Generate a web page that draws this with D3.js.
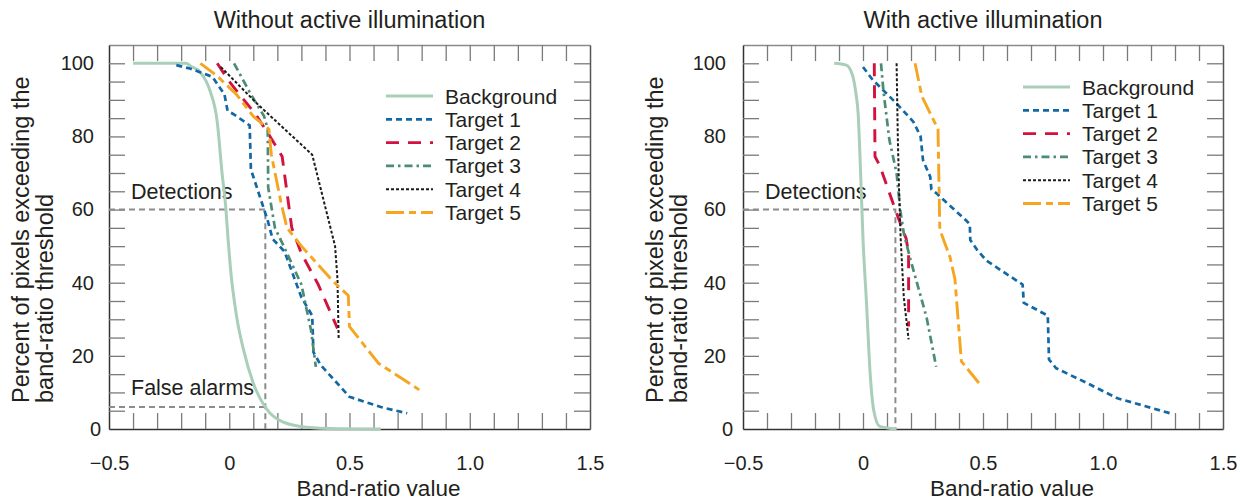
<!DOCTYPE html>
<html>
<head>
<meta charset="utf-8">
<script src="https://cdn.jsdelivr.net/npm/d3@7"></script>
<style>
  body { margin: 0; background: #fff; }
  svg text { font-family: "Liberation Sans", Arial, sans-serif; fill: #231f20; }
</style>
</head>
<body>
<div id="chart"></div>
<script>
// ---- data ----
const seriesNames = ["Background", "Target 1", "Target 2", "Target 3", "Target 4", "Target 5"];
const xTickLabels = [-0.5, 0, 0.5, 1.0, 1.5];
const yTickLabels = [0, 20, 40, 60, 80, 100];
const xMinorTicks = d3.range(-4, 15).map(d => d / 10);
const yMinorTicks = d3.range(5, 105, 5);

// without active illumination
const noIllumBackground = [[-0.4,100],[-0.18,100],[-0.16,99.2],[-0.12,97.5],[-0.08,92.5],[-0.05,84],[-0.03,70],[-0.015,61],[-0.005,52],[0.005,44],[0.03,31],[0.06,21.5],[0.10,12.5],[0.155,5.5],[0.22,2],[0.32,0.5],[0.45,0.1],[0.63,0]];
const noIllumTarget1 = [[-0.22,99.5],[-0.16,98.5],[-0.07,96.3],[-0.02,91.5],[-0.007,87],[0.02,86],[0.085,83],[0.09,71],[0.14,61],[0.16,57],[0.18,52],[0.23,48.5],[0.30,36],[0.345,31],[0.35,21],[0.38,17.5],[0.5,8.8],[0.63,6],[0.74,4.3]];
const noIllumTarget2 = [[-0.05,100],[0.0,95],[0.11,86],[0.16,81],[0.22,74.5],[0.26,55],[0.30,48],[0.37,39.5],[0.45,27.5]];
const noIllumTarget3 = [[0.02,100],[0.09,91.5],[0.145,85.5],[0.16,82],[0.162,66],[0.19,55],[0.23,49.5],[0.30,39.5],[0.34,27],[0.36,17]];
const noIllumTarget4 = [[-0.035,99],[0.115,89],[0.345,75],[0.44,50],[0.45,41],[0.455,24.5]];
const noIllumTarget5 = [[-0.12,100],[-0.05,96.5],[0.03,91.5],[0.10,85.5],[0.165,82],[0.175,75],[0.215,62],[0.24,55],[0.30,50],[0.43,40.5],[0.495,36.5],[0.50,28],[0.62,18],[0.79,10.7]];
const noIllumDetections = [[-0.5,60],[0.15,60],[0.15,0]];
const noIllumFalseAlarms = [[-0.5,6],[0.15,6]];

// with active illumination
const illumBackground = [[-0.12,100],[-0.07,99.5],[-0.045,97],[-0.03,92],[-0.02,86],[-0.01,70],[0,52],[0.015,34],[0.03,15],[0.045,5],[0.07,0.7],[0.14,0]];
const illumTarget1 = [[0.0,99],[0.04,95.5],[0.14,89],[0.21,84],[0.24,80],[0.25,73.5],[0.28,69],[0.285,65.5],[0.305,64.5],[0.43,57],[0.445,56],[0.447,51.7],[0.475,49],[0.515,46],[0.665,39.5],[0.67,34.5],[0.77,31],[0.775,19],[0.805,16.6],[0.92,13],[1.06,8.4],[1.28,4.3]];
const illumTarget2 = [[0.047,100],[0.05,74.5],[0.07,72],[0.14,59],[0.18,52],[0.19,48],[0.19,28]];
const illumTarget3 = [[0.075,100],[0.085,92.5],[0.11,79],[0.14,70],[0.155,60],[0.17,53.5],[0.195,47],[0.265,30.5],[0.305,17]];
const illumTarget4 = [[0.14,100],[0.145,80],[0.15,66],[0.157,52],[0.17,36],[0.19,24.5]];
const illumTarget5 = [[0.217,100],[0.245,91],[0.3125,82],[0.32,54.5],[0.3625,47],[0.383,41],[0.41,18.5],[0.49,12]];
const illumDetections = [[-0.5,60],[0.135,60],[0.135,0]];

// ---- styles ----
const styles = [
  { color: "#a9cfb8", width: 3,   dash: null },
  { color: "#1268a3", width: 2.7, dash: "6,4" },
  { color: "#d2123f", width: 2.9, dash: "13,9" },
  { color: "#4c8c75", width: 2.7, dash: "8,4,2.5,4" },
  { color: "#1c1c1c", width: 2,   dash: "3,2" },
  { color: "#f6a520", width: 2.9, dash: "18,5,7,5" }
];

const plotTop = 45, plotBottom = 429;
const y = d3.scaleLinear().domain([0, 105]).range([plotBottom, plotTop]);

const svg = d3.select('#chart').append('svg')
    .attr('width', 1240)
    .attr('height', 500);

function drawPanel(p) {
    const x = d3.scaleLinear().domain([-0.5, 1.5]).range([p.left, p.right]);
    const g = svg.append('g');

    const line = d3.line().x(d => x(d[0])).y(d => y(d[1]));

    // inward ticks on all four sides
    const tickStyle = sel => {
        sel.selectAll('.tick line').attr('stroke', '#7a7a7a').attr('stroke-width', 1.3);
        sel.select('.domain').attr('stroke-width', 1.5);
    };
    g.append('g').attr('transform', 'translate(0,' + plotBottom + ')')
        .call(d3.axisBottom(x).tickValues(xMinorTicks).tickSizeInner(-16).tickSizeOuter(0).tickFormat(''))
        .call(tickStyle).select('.domain').attr('stroke', '#333');
    g.append('g').attr('transform', 'translate(0,' + plotTop + ')')
        .call(d3.axisTop(x).tickValues(xMinorTicks).tickSizeInner(-16).tickSizeOuter(0).tickFormat(''))
        .call(tickStyle).select('.domain').attr('stroke', '#8a8a8a');
    g.append('g').attr('transform', 'translate(' + p.left + ',0)')
        .call(d3.axisLeft(y).tickValues(yMinorTicks).tickSizeInner(-16).tickSizeOuter(0).tickFormat(''))
        .call(tickStyle).select('.domain').attr('stroke', '#333');
    g.append('g').attr('transform', 'translate(' + p.right + ',0)')
        .call(d3.axisRight(y).tickValues(yMinorTicks).tickSizeInner(-16).tickSizeOuter(0).tickFormat(''))
        .call(tickStyle).select('.domain').attr('stroke', '#555');

    // tick labels
    const xl = g.append('g').attr('transform', 'translate(0,' + plotBottom + ')')
        .call(d3.axisBottom(x).tickValues(xTickLabels).tickSize(0).tickPadding(27)
            .tickFormat(d => d === 0 ? '0' : d3.format('.1f')(d)));
    xl.select('.domain').remove();
    xl.selectAll('text').style('font-size', '20px').attr('fill', '#231f20');

    const yl = g.append('g').attr('transform', 'translate(' + p.left + ',0)')
        .call(d3.axisLeft(y).tickValues(yTickLabels).tickSize(0).tickPadding(p.yPad));
    yl.select('.domain').remove();
    yl.selectAll('text').style('font-size', '20px').attr('fill', '#231f20');
    yl.selectAll('.tick text').filter(d => d === 0).attr('dx', 7);

    // reference lines
    p.refs.forEach(r => {
        g.append('path').datum(r)
            .attr('d', line)
            .attr('fill', 'none')
            .attr('stroke', '#8c8c8c')
            .attr('stroke-width', 2)
            .attr('stroke-dasharray', '6,4');
    });

    // annotations
    p.notes.forEach(n => {
        g.append('text')
            .attr('x', p.left + 22)
            .attr('y', n.y)
            .style('font-size', '21.5px')
            .text(n.text);
    });

    // series
    p.series.forEach((s, i) => {
        const st = styles[i];
        g.append('path').datum(s)
            .attr('d', i === 0 ? line.curve(d3.curveMonotoneX)(s) : line.curve(d3.curveLinear)(s))
            .attr('fill', 'none')
            .attr('stroke', st.color)
            .attr('stroke-width', st.width)
            .attr('stroke-dasharray', st.dash)
            .attr('stroke-linejoin', 'round');
    });

    // legend
    const leg = g.append('g').attr('transform', 'translate(' + p.legX + ',' + p.legY + ')');
    seriesNames.forEach((name, i) => {
        const st = styles[i];
        leg.append('line')
            .attr('x1', 0).attr('x2', 47)
            .attr('y1', i * 23.3).attr('y2', i * 23.3)
            .attr('stroke', st.color)
            .attr('stroke-width', st.width)
            .attr('stroke-dasharray', st.dash);
        leg.append('text')
            .attr('x', 59)
            .attr('y', i * 23.3)
            .attr('dy', '0.36em')
            .style('font-size', '21px')
            .text(name);
    });

    // titles
    g.append('text')
        .attr('x', (p.left + p.right) / 2)
        .attr('y', 28)
        .attr('text-anchor', 'middle')
        .style('font-size', '23.5px')
        .text(p.title);

    g.append('text')
        .attr('x', (p.left + p.right) / 2 + 29)
        .attr('y', 496)
        .attr('text-anchor', 'middle')
        .style('font-size', '22.5px')
        .text('Band-ratio value');

    const yt = g.append('text')
        .attr('transform', 'translate(' + (p.left - 88) + ',' + 403 + ') rotate(-90)')
        .style('font-size', '23.5px');
    yt.append('tspan').attr('x', 0).attr('dy', '0.36em').text('Percent of pixels exceeding the');
    yt.append('tspan').attr('x', 0).attr('dy', '1.0em').text('band-ratio threshold');
}

drawPanel({
    left: 109, right: 590, yPad: 15,
    title: 'Without active illumination',
    series: [noIllumBackground, noIllumTarget1, noIllumTarget2, noIllumTarget3, noIllumTarget4, noIllumTarget5],
    refs: [noIllumDetections, noIllumFalseAlarms],
    notes: [{ text: 'Detections', y: 199 }, { text: 'False alarms', y: 395 }],
    legX: 386, legY: 96
});

drawPanel({
    left: 743, right: 1223, yPad: 17,
    title: 'With active illumination',
    series: [illumBackground, illumTarget1, illumTarget2, illumTarget3, illumTarget4, illumTarget5],
    refs: [illumDetections],
    notes: [{ text: 'Detections', y: 199 }],
    legX: 1023, legY: 87
});
</script>
</body>
</html>
